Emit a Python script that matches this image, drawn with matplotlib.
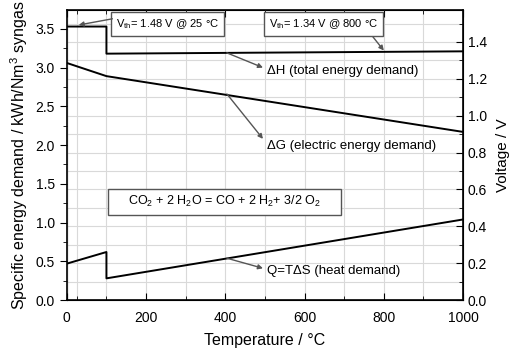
import matplotlib
matplotlib.use("Agg")
import matplotlib.pyplot as plt
from matplotlib.ticker import MultipleLocator, FixedLocator
from matplotlib.patches import Rectangle

plt.rcParams['font.family'] = ['Liberation Sans', 'DejaVu Sans']
plt.rcParams['mathtext.default'] = 'regular'

# data (temperature in °C, energy in kWh/Nm3)
t_dh = [0, 100, 100, 1000]
dh = [3.53, 3.53, 3.18, 3.21]

t_dg = [0, 100, 1000]
dg = [3.06, 2.89, 2.17]

t_q = [0, 100, 100, 1000]
q = [0.47, 0.62, 0.28, 1.04]

fig = plt.figure(figsize=(5.1, 3.53), dpi=100)
ax = fig.add_axes([0.131, 0.150, 0.777, 0.822])

# voltage axis on the right, its ticks give the horizontal grid
ax2 = ax.twinx()
ax2.set_ylim(0, 1.574)
ax2.yaxis.set_major_locator(MultipleLocator(0.2))
ax2.yaxis.set_minor_locator(MultipleLocator(0.1))
ax2.grid(True, which='both', axis='y', color='#d9d9d9', lw=0.8)
ax2.tick_params(axis='y', which='both', direction='in', labelsize=10)
ax2.tick_params(axis='y', which='major', length=5)
ax2.tick_params(axis='y', which='minor', length=3)
ax2.set_ylabel('Voltage / V', fontsize=11, labelpad=6)

ax.set_zorder(ax2.get_zorder() + 1)
ax.patch.set_visible(False)

ax.plot(t_dh, dh, color='black', lw=1.4)
ax.plot(t_dg, dg, color='black', lw=1.4)
ax.plot(t_q, q, color='black', lw=1.4)

ax.set_xlim(0, 1000)
ax.set_ylim(0, 3.745)
ax.xaxis.set_major_locator(MultipleLocator(200))
ax.xaxis.set_minor_locator(FixedLocator([25, 100, 300, 500, 700, 900]))
ax.yaxis.set_major_locator(MultipleLocator(0.5))
ax.yaxis.set_minor_locator(MultipleLocator(0.25))
ax.grid(True, which='both', axis='x', color='#d9d9d9', lw=0.8)
ax.tick_params(axis='y', which='both', direction='out', labelsize=10)
ax.tick_params(axis='x', which='both', direction='in', top=True, labelsize=10, pad=8)
ax.tick_params(which='major', length=5)
ax.tick_params(which='minor', length=3)
for s in ax.spines.values():
    s.set_linewidth(1.2)

ax.set_xlabel('Temperature / °C', fontsize=11.5, labelpad=6)
ax.set_ylabel('Specific energy demand / kWh/Nm$^3$ syngas', fontsize=11.5, labelpad=4)

box = dict(boxstyle='square,pad=0.45', fc='white', ec='#555555', lw=1.0)
arr = dict(arrowstyle='-|>', color='#555555', lw=1.0, mutation_scale=7, shrinkA=0, shrinkB=0)

ax.text(254, 3.565, '$V_{th}$= 1.48 V @ 25 °C', fontsize=8, ha='center', va='center', bbox=box)
ax.annotate('', xy=(30, 3.55), xytext=(115, 3.63), arrowprops=arr)
ax.text(648, 3.56, '$V_{th}$= 1.34 V @ 800 °C', fontsize=8, ha='center', va='center', bbox=box)
ax.annotate('', xy=(800, 3.22), xytext=(772, 3.40), arrowprops=arr)

ax.text(505, 2.96, 'ΔH (total energy demand)', fontsize=9.5, ha='left', va='center')
ax.annotate('', xy=(495, 3.0), xytext=(404, 3.19), arrowprops=arr)
ax.text(505, 1.99, 'ΔG (electric energy demand)', fontsize=9.5, ha='left', va='center')
ax.annotate('', xy=(495, 2.08), xytext=(404, 2.66), arrowprops=arr)
ax.text(505, 0.37, 'Q=TΔS (heat demand)', fontsize=9.5, ha='left', va='center')
ax.annotate('', xy=(495, 0.41), xytext=(404, 0.54), arrowprops=arr)

# reaction box
ax.add_patch(Rectangle((103, 1.10), 589, 0.335, fc='white', ec='#555555', lw=1.0, zorder=3))
ax.text(398, 1.27, 'CO$_2$ + 2 H$_2$O = CO + 2 H$_2$+ 3/2 O$_2$', fontsize=9, ha='center', va='center',
        zorder=4)

fig.savefig('out.png', dpi=100)
